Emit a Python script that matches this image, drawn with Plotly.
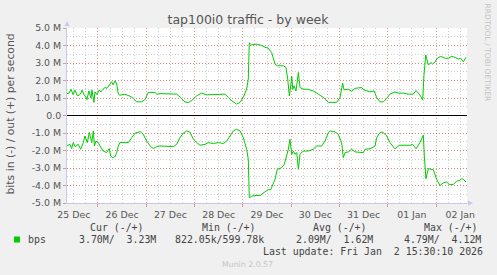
import pandas as pd
import plotly.graph_objects as go

# ---------------- data ----------------
# hours since 2025-12-25 00:00, values in Mbit/s
out_hours = [8.6, 9.6, 10.6, 11.6, 12.6, 13.6, 14.6, 15.6, 16.1, 17.0, 18.0, 18.5, 19.5, 20.5,
             21.0, 22.0, 22.5, 23.5, 24.5, 25.5, 26.5, 27.5, 28.5, 29.5, 30.8, 31.5, 32.5, 33.3,
             34.1, 34.9, 37.4, 39.9, 41.4, 43.2, 45.7, 47.4, 49.0, 52.3, 53.2, 54.8, 59.8, 63.1,
             64.8, 67.2, 68.9, 70.6, 73.1, 75.5, 78.0, 81.3, 84.6, 87.1, 88.8, 90.5, 92.9, 94.6,
             96.2, 97.9, 98.7, 99.2, 100.4, 102.9, 105.4, 107.0, 108.6, 109.5, 110.3, 112.0,
             113.1, 116.1, 117.4, 118.3, 119.1, 119.8, 120.3, 120.8, 121.4, 122.4, 123.6, 124.4,
             126.0, 128.5, 131.0, 133.5, 136.0, 138.5, 140.2, 142.6, 144.3, 145.6, 146.3, 148.4,
             150.1, 151.7, 155.1, 155.9, 159.2, 161.2, 162.5, 164.2, 165.8, 167.5, 169.1, 171.6,
             173.3, 175.7, 178.2, 180.7, 182.1, 183.7, 185.4, 186.0, 186.9, 188.2, 189.5, 190.3,
             191.5, 192.6, 194.3, 196.5, 198.1, 199.8, 201.4, 203.1, 204.3, 205.6, 206.9]
out_values = [1.25, 1.28, 1.5, 1.2, 1.45, 1.15, 1.15, 1.3, 1.45, 1.2, 1.05, 0.9, 1.4, 1.0,
              1.45, 0.75, 1.35, 1.2, 1.45, 1.35, 1.5, 1.6, 1.55, 1.7, 1.93, 1.75, 1.98, 1.8,
              1.22, 1.16, 1.22, 1.1, 1.0, 0.78, 0.78, 0.92, 1.32, 1.32, 1.22, 1.25, 1.25, 1.22,
              1.05, 0.77, 0.74, 0.86, 1.13, 1.28, 1.18, 1.18, 1.2, 1.22, 1.03, 0.84, 0.65, 0.75,
              1.03, 1.51, 2.08, 4.15, 4.03, 4.08, 4.0, 3.9, 3.85, 3.7, 3.6, 2.94,
              2.84, 2.84, 2.75, 2.08, 1.12, 1.7, 2.24, 1.5, 1.7, 1.4, 2.46, 1.6,
              1.5, 1.5, 1.4, 1.22, 1.03, 0.75, 0.75, 0.75, 1.03, 1.85, 1.47, 1.5,
              1.39, 1.55, 1.6, 1.47, 1.35, 1.41, 1.03, 0.78, 0.78, 0.97, 1.22, 1.35,
              1.28, 1.28, 1.22, 1.22, 1.43, 1.22, 0.9, 2.28, 3.46, 2.88, 3.03, 2.94,
              3.05, 3.27, 3.38, 3.27, 3.27, 3.38, 3.32, 3.22, 3.27, 3.07, 3.32]

in_hours = [8.5, 10.1, 10.9, 11.7, 12.6, 14.2, 15.4, 16.7, 17.5, 18.7, 19.7, 20.4, 20.9, 21.7,
            22.2, 23.0, 24.2, 25.0, 25.8, 26.6, 28.3, 29.6, 30.3, 31.3, 32.5, 33.3, 34.1, 34.9,
            37.4, 39.1, 40.8, 42.4, 44.9, 46.5, 48.2, 49.9, 51.5, 53.2, 54.8, 58.1, 61.4, 63.1,
            64.8, 66.4, 68.1, 69.7, 71.4, 73.1, 74.7, 77.2, 78.8, 81.3, 83.8, 86.3, 88.0, 89.6,
            91.3, 92.9, 94.6, 96.2, 97.9, 98.7, 99.2, 100.4, 102.0, 104.5, 106.2, 107.5, 108.6,
            109.8, 110.8, 112.0, 113.1, 115.3, 116.6, 117.8, 118.6, 119.4, 119.9, 120.3, 121.1,
            121.9, 122.8, 123.6, 124.4, 126.0, 128.5, 131.0, 132.7, 135.2, 136.8, 138.5, 139.3,
            141.8, 143.4, 145.1, 145.9, 146.8, 148.4, 150.1, 151.7, 154.2, 155.9, 156.7, 159.2,
            161.7, 162.5, 164.2, 165.5, 167.5, 169.1, 171.6, 173.8, 176.6, 179.1, 180.4, 182.1,
            184.0, 185.7, 186.2, 187.0, 188.2, 190.7, 192.3, 194.0, 195.6, 197.3, 198.6, 200.6,
            202.2, 203.9, 204.8, 205.6, 206.9]
in_values = [-1.74, -1.65, -1.89, -1.55, -1.78, -1.65, -1.93, -1.55, -1.17, -1.55, -0.97, -1.36, -1.55, -0.88,
             -1.74, -1.46, -1.55, -1.74, -1.93, -2.03, -2.12, -1.89, -2.32, -2.41, -2.35, -2.12, -1.74, -1.55,
             -1.55, -1.55, -1.26, -1.01, -0.92, -1.07, -1.46, -1.74, -1.89, -1.78, -1.74, -1.74, -1.78, -1.65,
             -1.26, -1.01, -0.88, -0.95, -1.36, -1.55, -1.7, -1.65, -1.55, -1.6, -1.55, -1.6, -1.46, -1.17,
             -0.88, -0.79, -0.88, -1.26, -1.93, -2.5, -4.7, -4.61, -4.57, -4.57, -4.42, -4.33, -4.23,
             -4.25, -3.94, -3.65, -3.08, -2.98, -2.79, -2.32, -1.93, -1.36, -1.74, -2.22, -2.03,
             -2.22, -2.12, -3.08, -2.22, -2.03, -2.03, -1.93, -1.74, -1.74, -1.46, -0.97, -0.88,
             -0.94, -1.07, -1.55, -2.41, -2.12, -2.08, -1.93, -2.08, -2.08, -2.12, -1.93, -1.9,
             -1.74, -1.26, -0.97, -0.94, -1.17, -1.55, -1.9, -1.7, -1.7, -1.7, -1.65, -1.9,
             -1.55, -1.12, -2.32, -3.61, -3.04, -3.1, -3.65, -4.0, -3.85, -3.8, -3.94, -3.94,
             -3.76, -3.7, -3.61, -3.65, -3.8]

y_tick_values = [-5, -4, -3, -2, -1, 0, 1, 2, 3, 4, 5]
y_tick_labels = ["-5.0 M", "-4.0 M", "-3.0 M", "-2.0 M", "-1.0 M", "0.0",
                 "1.0 M", "2.0 M", "3.0 M", "4.0 M", "5.0 M"]

legend_headers = ["Cur (-/+)", "Min (-/+)", "Avg (-/+)", "Max (-/+)"]
legend_values = ["3.70M/\u00a0\u00a03.23M", "822.05k/599.78k", "2.09M/\u00a0\u00a01.62M", "4.79M/\u00a0\u00a04.12M"]
series_name = "bps"
last_update = "Last update: Fri Jan\u00a0\u00a02 15:30:10 2026"

# ---------------- figure ----------------
base = pd.Timestamp("2025-12-25")
out_t = base + pd.to_timedelta(out_hours, unit="h")
in_t = base + pd.to_timedelta(in_hours, unit="h")
M = 1e6

W, H = 497, 275
L, R, T, B = 67, 30, 28, 72
PW, PH = W - L - R, H - T - B


def px(x):
    return (x - L) / PW


def py(y):
    return (H - B - y) / PH


GREEN = "#00CC00"
fig = go.Figure()
fig.add_trace(go.Scatter(x=in_t, y=[v * M for v in in_values], mode="lines",
                         line=dict(color=GREEN, width=1), hoverinfo="skip"))
fig.add_trace(go.Scatter(x=out_t, y=[v * M for v in out_values], mode="lines",
                         line=dict(color=GREEN, width=1), hoverinfo="skip"))

RED_GRID = "rgba(225,70,70,0.55)"
GRAY_GRID = "#cfcfcf"
AXIS_BLUE = "#c6c9ee"
TXT = "#555555"

fig.update_layout(
    width=W, height=H,
    margin=dict(l=L, r=R, t=T, b=B, pad=0),
    paper_bgcolor="#F0F0F0", plot_bgcolor="white",
    showlegend=False,
    font=dict(family="DejaVu Sans", color=TXT, size=9.4),
    title=dict(text="tap100i0 traffic - by week", x=248 / W, xanchor="center",
               y=1 - 19.5 / H, yanchor="middle", xref="container", yref="container",
               font=dict(family="DejaVu Sans", size=12.5, color=TXT)),
)

fig.update_xaxes(
    type="date",
    range=["2025-12-25 08:36", "2026-01-02 15:24"],
    tick0="2025-12-25", dtick=86400000,
    tickformat="%d %b", ticklabelmode="period",
    showgrid=True, gridcolor=RED_GRID, griddash="1px,2px", gridwidth=1,
    ticks="outside", ticklen=3, tickcolor=RED_GRID,
    tickfont=dict(family="DejaVu Sans", size=9.4, color=TXT),
    minor=dict(dtick=6 * 3600000, tick0="2025-12-25", showgrid=True,
               gridcolor=GRAY_GRID, griddash="1px,2px", gridwidth=1),
    showline=True, linecolor=AXIS_BLUE, linewidth=1,
    zeroline=False, fixedrange=True,
)
fig.update_yaxes(
    range=[-5 * M, 5 * M],
    tickvals=[v * M for v in y_tick_values], ticktext=y_tick_labels,
    showgrid=True, gridcolor=RED_GRID, griddash="1px,2px", gridwidth=1,
    ticks="outside", ticklen=3, tickcolor=RED_GRID,
    tickfont=dict(family="DejaVu Sans", size=9.4, color=TXT),
    minor=dict(dtick=0.5 * M, tick0=0, showgrid=True,
               gridcolor=GRAY_GRID, griddash="1px,2px", gridwidth=1),
    zeroline=True, zerolinecolor="black", zerolinewidth=1,
    showline=True, linecolor=AXIS_BLUE, linewidth=1, fixedrange=True,
)

ann = []
# y axis title
ann.append(dict(text="bits in (-) / out (+) per second", xref="paper", yref="paper",
                x=px(10), y=py(114.5), xanchor="center", yanchor="middle", textangle=-90,
                showarrow=False, font=dict(family="DejaVu Sans", size=10.8, color=TXT)))
# rrdtool watermark
ann.append(dict(text="RRDTOOL / TOBI OETIKER", xref="paper", yref="paper",
                x=px(487.5), y=py(53), xanchor="center", yanchor="middle", textangle=90,
                showarrow=False, font=dict(family="DejaVu Sans", size=7.6, color="#c4c4c4")))
# axis arrows
ann.append(dict(text="", xref="paper", yref="paper", x=0, y=py(21), ax=0, ay=7,
                showarrow=True, arrowhead=2, arrowsize=1, arrowwidth=1, arrowcolor=AXIS_BLUE))
ann.append(dict(text="", xref="paper", yref="paper", x=px(473), y=0, ax=-7, ay=0,
                showarrow=True, arrowhead=2, arrowsize=1, arrowwidth=1, arrowcolor=AXIS_BLUE))

MONO = dict(family="DejaVu Sans Mono", size=9.9, color="#444444")
header_x = [89.3, 201, 312.3, 422.7]
value_x = [78.3, 174, 295, 403.3]
for hx, htxt in zip(header_x, legend_headers):
    ann.append(dict(text=htxt.replace(" ", "\u00a0"), xref="paper", yref="paper", x=px(hx - 1), y=py(227.7),
                    xanchor="left", yanchor="middle", showarrow=False, font=MONO))
for vx, vtxt in zip(value_x, legend_values):
    ann.append(dict(text=vtxt, xref="paper", yref="paper", x=px(vx - 1), y=py(239.3),
                    xanchor="left", yanchor="middle", showarrow=False, font=MONO))
ann.append(dict(text=series_name, xref="paper", yref="paper", x=px(26), y=py(239.3),
                xanchor="left", yanchor="middle", showarrow=False, font=MONO))
ann.append(dict(text=last_update.replace(" ", "\u00a0"), xref="paper", yref="paper", x=px(260.7), y=py(251),
                xanchor="left", yanchor="middle", showarrow=False, font=MONO))
ann.append(dict(text="Munin 2.0.57", xref="paper", yref="paper", x=px(247.5), y=py(264),
                xanchor="center", yanchor="middle", showarrow=False,
                font=dict(family="DejaVu Sans", size=7.8, color="#c4c4c4")))
fig.update_layout(annotations=ann)

# legend colour swatch
fig.add_shape(type="rect", xref="paper", yref="paper", x0=px(14), x1=px(20), y0=py(242.5), y1=py(236.5),
              fillcolor=GREEN, line=dict(width=0))

fig.write_html("out.html")
